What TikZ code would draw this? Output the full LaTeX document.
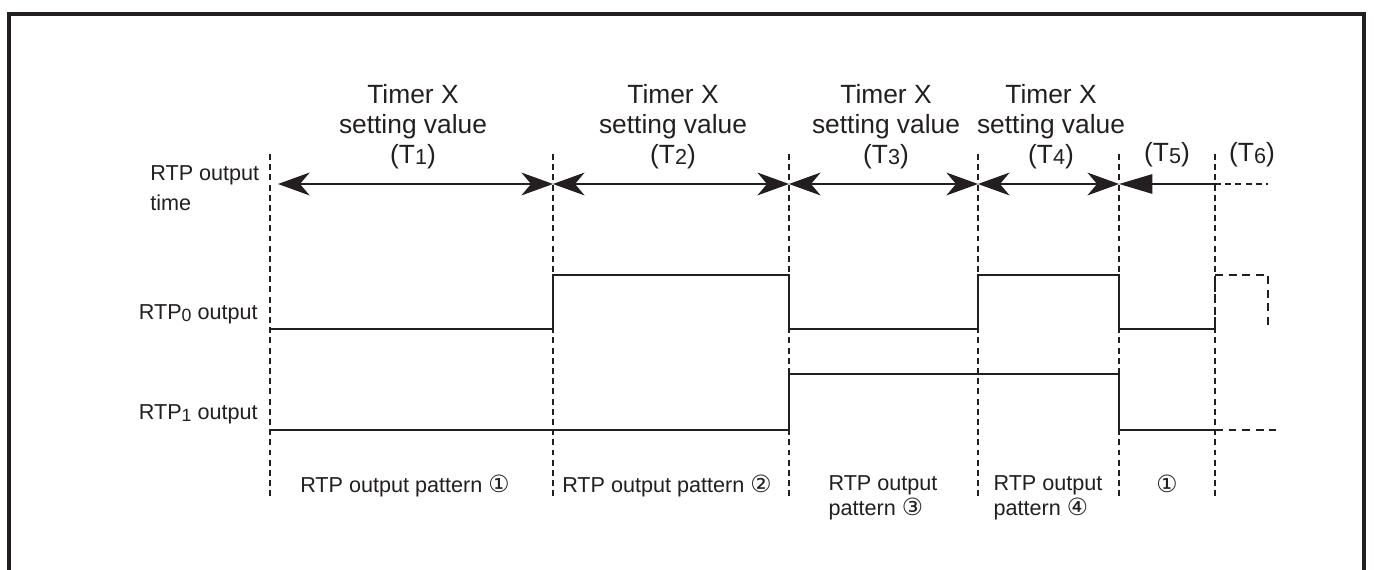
\documentclass[tikz,border=0pt]{standalone}
\usepackage{fontspec}
\setmainfont{Liberation Sans}
\newfontfamily\circfont{DejaVu Sans}
\usepackage{graphicx}
\usepackage{xcolor}
\definecolor{rtpink}{HTML}{231F20}
\usepackage{tikz}
\usetikzlibrary{arrows.meta,positioning}

\newcommand{\tidx}[1]{\raisebox{-0.1ex}{\scalebox{0.82}{#1}}}
\newcommand{\circnum}[1]{{\circfont\fontsize{13.5}{14}\selectfont #1}}

\begin{document}
\begin{tikzpicture}[x=0.02cm, y=-0.02cm, color=rtpink,
  guide/.style={line width=0.6pt, dash pattern=on 3.4pt off 2.4pt},
  wave/.style={line width=1.6pt},
  wavecont/.style={line width=1.6pt, dash pattern=on 4.5pt off 3.2pt},
  dimthick/.style={{Stealth[length=18pt,width=13pt,inset=5.5pt]}-{Stealth[length=18pt,width=13pt,inset=5.5pt]},
                   line width=1.1pt},
  dimthin/.style={{Stealth[length=18pt,width=13pt,inset=5.5pt]}-{Stealth[length=18pt,width=13pt,inset=5.5pt]},
                  line width=0.6pt},
  toplbl/.style={font=\fontsize{15}{17}\selectfont, align=center, anchor=north, inner sep=0pt},
  sidelbl/.style={font=\fontsize{12.3}{17}\selectfont, inner sep=0pt},
  patlbl/.style={font=\fontsize{12.3}{14.2}\selectfont, align=left, anchor=north, inner sep=0pt}]

  \useasboundingbox (0,0) rectangle (1374,570);

  %% Frame (open at the bottom)
  \draw[line width=2.8pt] (9,570) -- (9,14) -- (1364,14) -- (1364,570);

  %% Boundary coordinates
  \coordinate (b0) at (270,154);  \coordinate (e0) at (270,500);
  \coordinate (b1) at (553,154);  \coordinate (e1) at (553,500);
  \coordinate (b2) at (789,154);  \coordinate (e2) at (789,500);
  \coordinate (b3) at (978,154);  \coordinate (e3) at (978,500);
  \coordinate (b4) at (1119,154); \coordinate (e4) at (1119,500);
  \coordinate (b5) at (1215,154); \coordinate (e5) at (1215,500);

  %% Vertical guide lines
  \draw[guide] (b0) -- (e0);
  \draw[guide] (b1) -- (e1);
  \draw[guide] (b2) -- (e2);
  \draw[guide] (b3) -- (e3);
  \draw[guide] (b4) -- (e4);
  \draw[guide] (b5) -- (e5);

  %% RTP output time arrows
  \coordinate (a0) at (278,184);
  \coordinate (a1) at (553,184);
  \coordinate (a2) at (789,184);
  \coordinate (a3) at (978,184);
  \coordinate (a4) at (1119,184);
  \coordinate (a5) at (1215,184);
  \coordinate (a6) at (1268,184);
  \draw[dimthick] (a0) -- (a1);
  \draw[dimthin] (a1) -- (a2);
  \draw[dimthin] (a2) -- (a3);
  \draw[dimthin] (a3) -- (a4);
  \draw[-{Triangle[length=19pt,width=11pt]}, line width=1.1pt] (a5) -- (a4);
  \draw[guide] (a5) -- (a6);

  %% Timer labels
  \node[toplbl] (lt1) at (413,84) {Timer X\\setting value\\(T\tidx{1})};
  \node[toplbl] (lt2) at (673,84) {Timer X\\setting value\\(T\tidx{2})};
  \node[toplbl] (lt3) at (886,84) {Timer X\\setting value\\(T\tidx{3})};
  \node[toplbl] (lt4) at (1051,84) {Timer X\\setting value\\(T\tidx{4})};
  \node[font=\fontsize{15}{17}\selectfont, anchor=base, inner sep=0pt]
    (lt5) at (1167,162) {(T\tidx{5})};
  \node[font=\fontsize{15}{17}\selectfont, anchor=base, inner sep=0pt]
    (lt6) at (1252,162) {(T\tidx{6})};

  %% Row labels
  \node[sidelbl, align=left, anchor=north west] (ltime) at (150,165)
    {RTP output\\time};
  \node[sidelbl, anchor=base east] (lr0) at (258,320) {RTP\tidx{0} output};
  \node[sidelbl, anchor=base east] (lr1) at (258,420) {RTP\tidx{1} output};

  %% RTP0 waveform
  \draw[wave] (270,329) -- (553,329) -- (553,275) -- (789,275) -- (789,329)
    -- (978,329) -- (978,275) -- (1119,275) -- (1119,329) -- (1215,329);
  \draw[wavecont] (1215,329) -- (1215,275) -- (1268,275) -- (1268,329);

  %% RTP1 waveform
  \draw[wave] (270,430) -- (789,430) -- (789,374) -- (1119,374) -- (1119,430)
    -- (1215,430);
  \draw[wavecont] (1215,430) -- (1276,430);

  %% Output pattern labels
  \node[patlbl] (lp1) at (405,475) {RTP output pattern \circnum{①}};
  \node[patlbl] (lp2) at (667,475) {RTP output pattern \circnum{②}};
  \node[patlbl] (lp3) at (883,475) {RTP output\\pattern \circnum{③}};
  \node[patlbl] (lp4) at (1048,475) {RTP output\\pattern \circnum{④}};
  \node[patlbl] (lp5) at (1167,475) {\circnum{①}};

\end{tikzpicture}
\end{document}
